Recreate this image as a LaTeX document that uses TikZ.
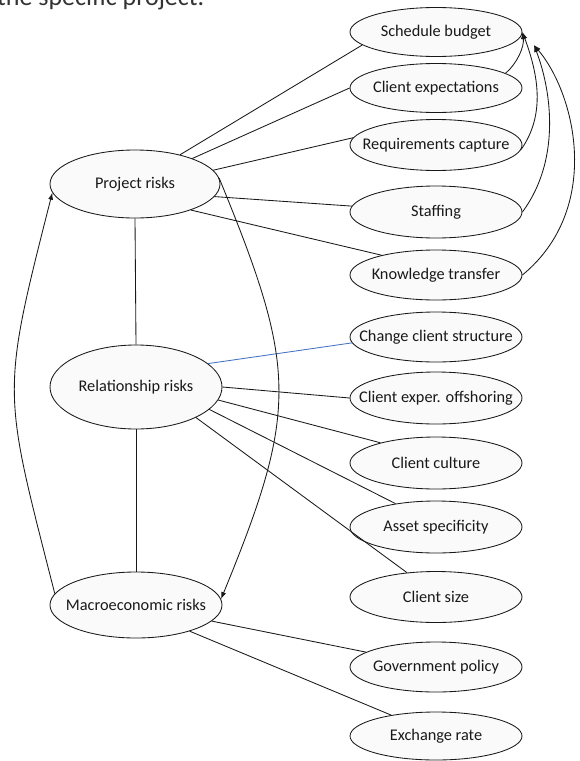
\documentclass[tikz,border=0pt]{standalone}
\usepackage{fontspec}
\setmainfont{Carlito}
\usetikzlibrary{shapes.geometric,arrows.meta}
\definecolor{offblue}{RGB}{68,114,196}
\definecolor{inkc}{RGB}{25,25,25}
\newcommand\zwtext[1]{\makebox[0pt]{#1}}
\tikzset{
  riskbox/.style={ellipse, draw=inkc, line width=0.85pt, fill=gray!4, inner sep=0pt,
    minimum width=172pt, minimum height=50pt, font=\fontsize{16.3}{16.3}\selectfont, text=inkc},
  link/.style={draw=inkc, line width=0.85pt},
  arrowlink/.style={draw=inkc, line width=0.85pt, -{Latex[length=7pt,width=5pt]}},
}
\begin{document}
\begin{tikzpicture}[x=1pt,y=-1pt]
\useasboundingbox (0,0) rectangle (579,761);
\clip (0,0) rectangle (579,761);
\node[anchor=base west, inner sep=0pt, font=\fontsize{26}{26}\selectfont, text=black!80] (cap) at (-3,5) {the specific project.};

% right column
\node[riskbox, minimum height=49pt] (sb) at (436,32) {\zwtext{Schedule budget}};
\node[riskbox, minimum height=49pt] (ce) at (436,88) {\zwtext{Client expectations}};
\node[riskbox, minimum height=51pt] (rc) at (436,145) {\zwtext{Requirements capture}};
\node[riskbox, minimum height=52pt] (st) at (436,212) {\zwtext{Staffing}};
\node[riskbox] (kt) at (436,275) {\zwtext{Knowledge transfer}};
\node[riskbox] (cc) at (436,337) {\zwtext{Change client structure}};
\node[riskbox, minimum height=52pt] (co) at (436,398) {\zwtext{Client exper. offshoring}};
\node[riskbox, minimum height=52pt] (cu) at (436,463) {\zwtext{Client culture}};
\node[riskbox, minimum height=52pt] (as) at (436,527) {\zwtext{Asset specificity}};
\node[riskbox, minimum height=51pt] (cs) at (436,597) {\zwtext{Client size}};
\node[riskbox] (gp) at (436,667) {\zwtext{Government policy}};
\node[riskbox, minimum height=48pt] (er) at (436,736) {\zwtext{Exchange rate}};

% left column
\node[riskbox, minimum width=170pt, minimum height=68pt] (pr) at (135,184) {\zwtext{Project risks}};
\node[riskbox, minimum height=84pt] (rr) at (136,387) {\zwtext{Relationship risks}};
\node[riskbox, minimum height=66pt] (mr) at (136,605) {\zwtext{Macroeconomic risks}};

\coordinate (sbtip) at (534,45);

% project links
\draw[link] (pr.33) -- (sb.190);
\draw[link] (pr.24) -- (ce.180);
\draw[link] (pr.10) -- (rc.175);
\draw[link] (pr.-9) -- (st.176);
\draw[link] (pr.-25) -- (kt.160);

% relationship links
\draw[line width=0.85pt, draw=offblue] (rr.18) -- (cc.184);
\draw[link] (rr.0) -- (co.180);
\draw[link] (rr.-9) -- (cu.160);
\draw[link] (rr.-17) -- (as.150);
\draw[link] (rr.-27) -- (cs.140);

% macro links
\draw[link] (mr.-12) -- (gp.168);
\draw[link] (mr.-26) -- (er.155);

% vertical links
\draw[link] (pr.south) -- (rr.north);
\draw[link] (rr.south) -- (mr.north);

% big arcs
\draw[arrowlink] (mr.172) .. controls +(-52,-204) and +(-52,204) .. (pr.186);
\draw[arrowlink] (pr.4) .. controls +(78,190) and +(78,-190) .. (mr.4);

% arcs to schedule budget
\draw[arrowlink] (ce.12) .. controls +(12,-10) and +(2,14) .. (sb.east);
\draw[arrowlink] (rc.-3) .. controls +(26,-37) and +(14,38) .. (sb.east);
\draw[arrowlink] (st.east) .. controls +(37,-50) and +(19,50) .. (sbtip);
\draw[arrowlink] (kt.east) .. controls +(80,-66) and +(42,50) .. (sbtip);
\end{tikzpicture}
\end{document}
